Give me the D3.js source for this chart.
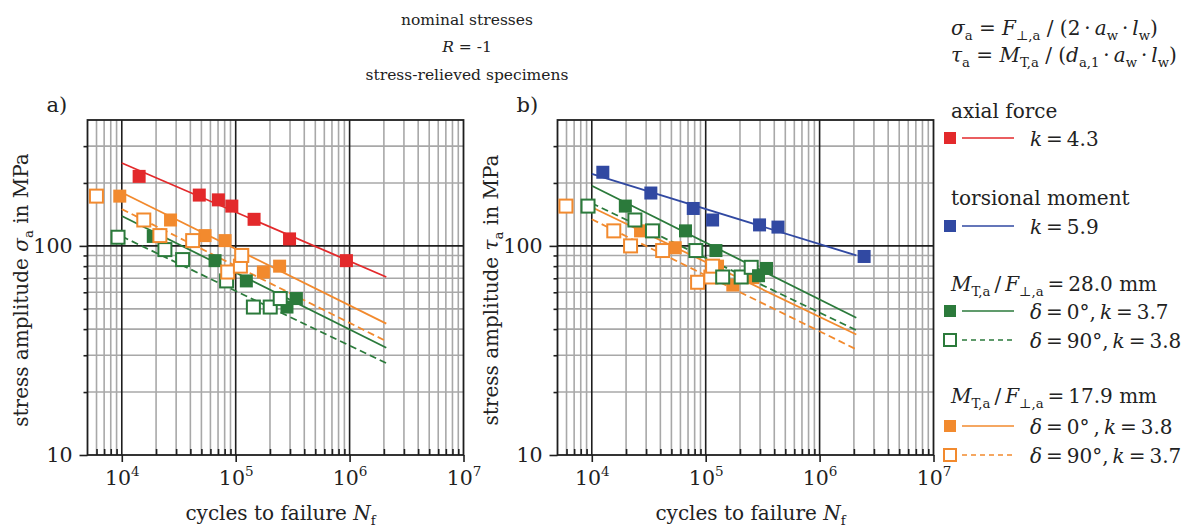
<!DOCTYPE html>
<html>
<head>
<meta charset="utf-8">
<script src="https://cdn.jsdelivr.net/npm/d3@7"></script>
<style>
  body { margin: 0; background: #fff; }
  svg text { font-family: "DejaVu Serif", "Liberation Serif", serif; fill: #222; }
</style>
</head>
<body>
<svg id="chart"></svg>
<script>
// ---- data: [cycles N_f, stress amplitude in MPa]
// panel a) nominal normal stress sigma_a
const axialA   = [[14200,215],[47900,175],[70500,166],[92500,155],[145000,134],[297000,108],[938000,85]];
const m28d0A   = [[18900,111],[65900,85],[124000,68],[282000,51],[341000,56]];
const m28d90A  = [[9270,110],[23900,96],[34200,86],[83200,68],[143000,51],[201000,51],[246000,56]];
const m18d0A   = [[9600,173],[26800,133],[53800,112],[80700,106],[175000,75],[243000,80]];
const m18d90A  = [[5990,173],[15600,133],[21600,112],[41900,106],[85100,75],[110000,80],[113000,90]];

// panel b) nominal shear stress tau_a
const torsionB = [[12500,225],[33000,179],[77800,151],[115000,133],[297000,126],[431000,123],[2460000,89]];
const m28d0B   = [[19700,155],[66500,118],[123000,95],[291000,72],[342000,78]];
const m28d90B  = [[9270,155],[23900,133],[34100,118],[82000,95],[141000,71],[205000,71],[251000,79]];
const m18d0B   = [[26800,118],[54000,98],[127000,80],[173000,65],[259000,70.5]];
const m18d90B  = [[5930,155],[15600,118],[21900,100],[41900,95],[84900,67],[111000,71],[115000,80]];

// S-N lines: stress at the start and end cycles
const lineCycles = [1e4, 2.1e6];
const fitA = { axial: [249,71], m18d0: [180,42.5], m18d90: [150,35], m28d0: [139,32.6], m28d90: [111,27.5] };
const fitB = { torsion: [221,90], m28d0: [194,45.3], m28d90: [160,39.5], m18d0: [153,37.7], m18d90: [134,32] };

const xTickLabels = [1e4, 1e5, 1e6, 1e7];
const yTickLabels = [10, 100];

// ---- styles
const col = { red: "#e3292b", blue: "#3149a2", green: "#2b7a3b", orange: "#f28a2e" };
const style = {
  axial:   { color: col.red,    filled: true,  dash: null },
  torsion: { color: col.blue,   filled: true,  dash: null },
  m28d0:   { color: col.green,  filled: true,  dash: null },
  m28d90:  { color: col.green,  filled: false, dash: "7,4" },
  m18d0:   { color: col.orange, filled: true,  dash: null },
  m18d90:  { color: col.orange, filled: false, dash: "7,4" }
};

const width = 1192, height = 532;
const svg = d3.select("#chart").attr("width", width).attr("height", height);

const plotTop = 120, plotBottom = 455, plotW = 376;
const th = "\u2009"; // thin space, keeps the legend as tight as the original

// rich text helper: parts = [[text, kind]] kind: "", "i", "sub", "sup"
function rich(sel, parts, size) {
  let shift = 0;
  parts.forEach(([t, kind]) => {
    const target = kind === "sub" ? size * 0.25 : kind === "sup" ? -size * 0.42 : 0;
    const ts = sel.append("tspan").text(t);
    if (target - shift !== 0) ts.attr("dy", target - shift);
    if (kind === "sub" || kind === "sup") ts.attr("font-size", size * 0.66);
    if (kind === "i") ts.attr("font-style", "italic");
    shift = target;
  });
  return sel;
}

function drawPanel(p) {
  const x = d3.scaleLog().domain([5000, 1e7]).range([p.left, p.left + plotW]);
  const y = d3.scaleLog().domain([10, 400]).range([plotBottom, plotTop]);
  const isMajor = v => Math.abs(Math.log10(v) - Math.round(Math.log10(v))) < 1e-9;
  const g = svg.append("g");

  const xt = x.ticks().filter(v => v > 5000 && v < 1e7);
  const yt = y.ticks().filter(v => v > 10 && v < 400);

  // grid, minor first then major on top
  const grid = g.append("g");
  grid.selectAll(".vminor").data(xt.filter(v => !isMajor(v))).join("line")
    .attr("x1", d => x(d)).attr("x2", d => x(d)).attr("y1", plotTop).attr("y2", plotBottom)
    .attr("stroke", "#a8a8a8").attr("stroke-width", 1.6);
  grid.selectAll(".hminor").data(yt.filter(v => !isMajor(v))).join("line")
    .attr("y1", d => y(d)).attr("y2", d => y(d)).attr("x1", p.left).attr("x2", p.left + plotW)
    .attr("stroke", "#a8a8a8").attr("stroke-width", 1.6);
  grid.selectAll(".vmajor").data(xt.filter(isMajor)).join("line")
    .attr("x1", d => x(d)).attr("x2", d => x(d)).attr("y1", plotTop).attr("y2", plotBottom)
    .attr("stroke", "#1e1e1e").attr("stroke-width", 1.6);
  grid.selectAll(".hmajor").data(yt.filter(isMajor)).join("line")
    .attr("y1", d => y(d)).attr("y2", d => y(d)).attr("x1", p.left).attr("x2", p.left + plotW)
    .attr("stroke", "#1e1e1e").attr("stroke-width", 1.6);

  g.append("rect").attr("x", p.left).attr("y", plotTop).attr("width", plotW).attr("height", plotBottom - plotTop)
    .attr("fill", "none").attr("stroke", "#1e1e1e").attr("stroke-width", 1.8);

  // axes
  const xMinor = g.append("g").attr("transform", `translate(0,${plotBottom})`)
    .call(d3.axisBottom(x).tickValues(xt.filter(v => !isMajor(v))).tickSize(-6).tickFormat(""));
  const xMajor = g.append("g").attr("transform", `translate(0,${plotBottom})`)
    .call(d3.axisBottom(x).tickValues(xTickLabels).tickSize(7).tickFormat(""));
  const yMinor = g.append("g").attr("transform", `translate(${p.left},0)`)
    .call(d3.axisLeft(y).tickValues(yt.filter(v => !isMajor(v))).tickSize(4).tickFormat(""));
  const yMajor = g.append("g").attr("transform", `translate(${p.left},0)`)
    .call(d3.axisLeft(y).tickValues(yTickLabels).tickSize(8).tickPadding(7).tickFormat(d => d));
  [xMinor, xMajor, yMinor, yMajor].forEach(a => {
    a.select(".domain").remove();
    a.selectAll(".tick line").attr("stroke", "#1e1e1e").attr("stroke-width", 1.6);
  });
  yMajor.selectAll(".tick text").attr("font-size", 20.5).attr("fill", "#222")
    .attr("font-family", "DejaVu Serif, Liberation Serif, serif");
  xMajor.selectAll(".tick text").each(function (d) {
    const t = d3.select(this).text("").attr("font-size", 20.5).attr("fill", "#222")
      .attr("font-family", "DejaVu Serif, Liberation Serif, serif").attr("y", 30).attr("dy", null);
    rich(t, [["10", ""], [String(Math.round(Math.log10(d))), "sup"]], 20.5);
  });

  // axis titles
  rich(g.append("text").attr("x", p.left + 193).attr("y", 520).attr("text-anchor", "middle").attr("font-size", 20),
    [["cycles to failure ", ""], ["N", "i"], ["f", "sub"]], 20);
  rich(g.append("text").attr("transform", `translate(${p.left - 60},290) rotate(-90)`)
      .attr("text-anchor", "middle").attr("font-size", 20),
    [["stress amplitude ", ""], [p.sym, "i"], ["a", "sub"], [" in MPa", ""]], 20);
  g.append("text").attr("x", p.left - 41).attr("y", 112).attr("font-size", 21).text(p.tag);

  // S-N lines
  const line = d3.line().x(d => x(d[0])).y(d => y(d[1]));
  Object.entries(p.fit).forEach(([key, s]) => {
    g.append("path").datum(lineCycles.map((n, i) => [n, s[i]])).attr("d", line)
      .attr("fill", "none").attr("stroke", style[key].color).attr("stroke-width", 1.8)
      .attr("stroke-dasharray", style[key].dash);
  });

  // markers
  p.points.forEach(([key, pts]) => {
    const st = style[key];
    g.selectAll(null).data(pts).join("rect")
      .attr("x", d => x(d[0]) - 6.5).attr("y", d => y(d[1]) - 6.5)
      .attr("width", 13).attr("height", 13)
      .attr("fill", st.filled ? st.color : "#fff")
      .attr("stroke", st.filled ? "none" : st.color).attr("stroke-width", 2);
  });
}

drawPanel({ left: 87.5, tag: "a)", sym: "σ", fit: fitA,
  points: [["m28d0", m28d0A], ["m28d90", m28d90A], ["m18d0", m18d0A], ["m18d90", m18d90A], ["axial", axialA]] });
drawPanel({ left: 557.5, tag: "b)", sym: "τ", fit: fitB,
  points: [["m18d0", m18d0B], ["m18d90", m18d90B], ["m28d90", m28d90B], ["m28d0", m28d0B], ["torsion", torsionB]] });

// title
const ts = 15.5;
const title = svg.append("g");
title.append("text").attr("x", 467).attr("y", 25).attr("text-anchor", "middle").attr("font-size", ts).text("nominal stresses");
rich(title.append("text").attr("x", 467).attr("y", 52).attr("text-anchor", "middle").attr("font-size", ts),
  [["R", "i"], [" = -1", ""]], ts);
title.append("text").attr("x", 467).attr("y", 80).attr("text-anchor", "middle").attr("font-size", ts).text("stress-relieved specimens");

// formulas and legend
const lg = svg.append("g");
const fs = 20;
const eq = th + "=" + th;
const dot = th + "·" + th;
rich(lg.append("text").attr("x", 951).attr("y", 35).attr("font-size", fs),
  [["σ", "i"], ["a", "sub"], [" = ", ""], ["F", "i"], ["⊥,a", "sub"], [" / (2" + dot, ""], ["a", "i"], ["w", "sub"],
   [dot, ""], ["l", "i"], ["w", "sub"], [")", ""]], fs);
rich(lg.append("text").attr("x", 951).attr("y", 62).attr("font-size", fs),
  [["τ", "i"], ["a", "sub"], [" = ", ""], ["M", "i"], ["T,a", "sub"], [" / (", ""], ["d", "i"], ["a,1", "sub"],
   [dot, ""], ["a", "i"], ["w", "sub"], [dot, ""], ["l", "i"], ["w", "sub"], [")", ""]], fs);

function legendRow(key, cy, parts) {
  const st = style[key];
  lg.append("rect").attr("x", 944).attr("y", cy - 6).attr("width", 12).attr("height", 12)
    .attr("fill", st.filled ? st.color : "#fff").attr("stroke", st.filled ? "none" : st.color).attr("stroke-width", 2);
  lg.append("line").attr("x1", 962).attr("x2", 1014).attr("y1", cy).attr("y2", cy)
    .attr("stroke", st.color).attr("stroke-width", 1.6).attr("stroke-dasharray", st.dash ? "5,4" : null);
  rich(lg.append("text").attr("x", 1030).attr("y", cy + 8).attr("font-size", fs), parts, fs);
}
function legendHead(y, parts) {
  rich(lg.append("text").attr("x", 951).attr("y", y).attr("font-size", fs), parts, fs);
}
const ratio = v => [["M", "i"], ["T,a", "sub"], [th + "/" + th, ""], ["F", "i"], ["⊥,a", "sub"], [`${eq}${v} mm`, ""]];

legendHead(118, [["axial force", ""]]);
legendRow("axial", 138, [["k", "i"], [eq + "4.3", ""]]);
legendHead(205, [["torsional moment", ""]]);
legendRow("torsion", 226, [["k", "i"], [eq + "5.9", ""]]);
legendHead(291, ratio("28.0"));
legendRow("m28d0", 311, [["δ", "i"], [eq + "0°," + th, ""], ["k", "i"], [eq + "3.7", ""]]);
legendRow("m28d90", 340, [["δ", "i"], [eq + "90°," + th, ""], ["k", "i"], [eq + "3.8", ""]]);
legendHead(403, ratio("17.9"));
legendRow("m18d0", 426, [["δ", "i"], [eq + "0°" + th + "," + th, ""], ["k", "i"], [eq + "3.8", ""]]);
legendRow("m18d90", 455, [["δ", "i"], [eq + "90°," + th, ""], ["k", "i"], [eq + "3.7", ""]]);
</script>
</body>
</html>
